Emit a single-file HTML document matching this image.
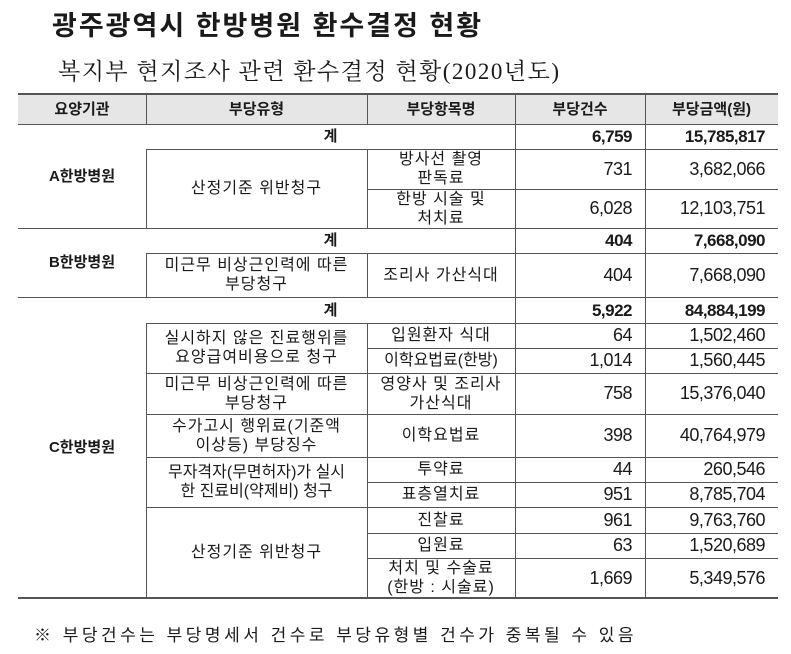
<!DOCTYPE html>
<html><head><meta charset="utf-8"><style>
body{margin:0;width:791px;height:654px;background:#fff;position:relative;overflow:hidden;font-family:"Liberation Sans","Noto Sans CJK KR",sans-serif;color:#1a1a1a}
.a{position:absolute;white-space:nowrap}
.h{position:absolute;height:1px;background:#555}
.v{position:absolute;width:1px;background:#555}
.c{position:absolute;display:flex;align-items:center;justify-content:center;text-align:center;font-size:16px;line-height:19px;letter-spacing:1px;white-space:nowrap}
.r{justify-content:flex-end;padding-right:13px;box-sizing:border-box;letter-spacing:-0.5px;font-size:18px}
.b{font-weight:bold;font-size:15px;letter-spacing:0}
.b.r{font-size:17px;letter-spacing:-0.5px}
</style></head><body>
<div class="a" style="left:52px;top:4px;font-size:27px;font-weight:bold;letter-spacing:2px">광주광역시 한방병원 환수결정 현황</div>
<div class="a" style="left:58px;top:53px;font-size:23px;letter-spacing:1.5px;font-family:'Liberation Serif','Noto Serif CJK SC','Noto Sans CJK KR',serif">복지부 현지조사 관련 환수결정 현황(2020년도)</div>

<div class="a" style="left:18px;top:94px;width:760px;height:30px;background:#e6e6e6"></div>
<div class="h" style="left:18px;width:760px;top:93px;height:2px"></div>
<div class="h" style="left:18px;width:760px;top:124px"></div>
<div class="h" style="left:18px;width:760px;top:228px"></div>
<div class="h" style="left:18px;width:760px;top:297px"></div>
<div class="h" style="left:18px;width:760px;top:597px;height:2px"></div>
<div class="h" style="left:146px;width:632px;top:149px"></div>
<div class="h" style="left:146px;width:632px;top:253px"></div>
<div class="h" style="left:146px;width:632px;top:323px"></div>
<div class="h" style="left:146px;width:632px;top:373px"></div>
<div class="h" style="left:146px;width:632px;top:414px"></div>
<div class="h" style="left:146px;width:632px;top:457px"></div>
<div class="h" style="left:146px;width:632px;top:507px"></div>
<div class="h" style="left:367px;width:411px;top:189px"></div>
<div class="h" style="left:367px;width:411px;top:348px"></div>
<div class="h" style="left:367px;width:411px;top:482px"></div>
<div class="h" style="left:367px;width:411px;top:533px"></div>
<div class="h" style="left:367px;width:411px;top:558px"></div>

<div class="v" style="left:146px;top:94px;height:30px"></div>
<div class="v" style="left:146px;top:149px;height:79px"></div>
<div class="v" style="left:146px;top:253px;height:44px"></div>
<div class="v" style="left:146px;top:323px;height:275px"></div>
<div class="v" style="left:367px;top:94px;height:30px"></div>
<div class="v" style="left:367px;top:149px;height:79px"></div>
<div class="v" style="left:367px;top:253px;height:44px"></div>
<div class="v" style="left:367px;top:323px;height:275px"></div>
<div class="v" style="left:515px;top:94px;height:504px"></div>
<div class="v" style="left:645px;top:94px;height:504px"></div>

<div class="c b" style="left:18px;top:94px;width:128px;height:30px">요양기관</div>
<div class="c b" style="left:146px;top:94px;width:221px;height:30px">부당유형</div>
<div class="c b" style="left:367px;top:94px;width:148px;height:30px">부당항목명</div>
<div class="c b" style="left:515px;top:94px;width:130px;height:30px">부당건수</div>
<div class="c b" style="left:645px;top:94px;width:133px;height:30px">부당금액(원)</div>

<div class="c b" style="left:18px;top:124px;width:128px;height:104px">A한방병원</div>
<div class="c b" style="left:146px;top:124px;width:369px;height:25px">계</div>
<div class="c b r" style="left:515px;top:124px;width:130px;height:25px">6,759</div>
<div class="c b r" style="left:645px;top:124px;width:133px;height:25px">15,785,817</div>
<div class="c" style="left:146px;top:149px;width:221px;height:79px">산정기준 위반청구</div>
<div class="c" style="left:367px;top:149px;width:148px;height:40px">방사선 촬영<br>판독료</div>
<div class="c r" style="left:515px;top:149px;width:130px;height:40px">731</div>
<div class="c r" style="left:645px;top:149px;width:133px;height:40px">3,682,066</div>
<div class="c" style="left:367px;top:189px;width:148px;height:39px">한방 시술 및<br>처치료</div>
<div class="c r" style="left:515px;top:189px;width:130px;height:39px">6,028</div>
<div class="c r" style="left:645px;top:189px;width:133px;height:39px">12,103,751</div>

<div class="c b" style="left:18px;top:228px;width:128px;height:69px">B한방병원</div>
<div class="c b" style="left:146px;top:228px;width:369px;height:25px">계</div>
<div class="c b r" style="left:515px;top:228px;width:130px;height:25px">404</div>
<div class="c b r" style="left:645px;top:228px;width:133px;height:25px">7,668,090</div>
<div class="c" style="left:146px;top:253px;width:221px;height:44px">미근무 비상근인력에 따른<br>부당청구</div>
<div class="c" style="left:367px;top:253px;width:148px;height:44px">조리사 가산식대</div>
<div class="c r" style="left:515px;top:253px;width:130px;height:44px">404</div>
<div class="c r" style="left:645px;top:253px;width:133px;height:44px">7,668,090</div>

<div class="c b" style="left:18px;top:297px;width:128px;height:300px">C한방병원</div>
<div class="c b" style="left:146px;top:297px;width:369px;height:26px">계</div>
<div class="c b r" style="left:515px;top:297px;width:130px;height:26px">5,922</div>
<div class="c b r" style="left:645px;top:297px;width:133px;height:26px">84,884,199</div>

<div class="c" style="left:146px;top:323px;width:221px;height:50px">실시하지 않은 진료행위를<br>요양급여비용으로 청구</div>
<div class="c" style="left:367px;top:323px;width:148px;height:25px">입원환자 식대</div>
<div class="c r" style="left:515px;top:323px;width:130px;height:25px">64</div>
<div class="c r" style="left:645px;top:323px;width:133px;height:25px">1,502,460</div>
<div class="c" style="left:367px;top:348px;width:148px;height:25px;letter-spacing:0">이학요법료(한방)</div>
<div class="c r" style="left:515px;top:348px;width:130px;height:25px">1,014</div>
<div class="c r" style="left:645px;top:348px;width:133px;height:25px">1,560,445</div>

<div class="c" style="left:146px;top:373px;width:221px;height:41px">미근무 비상근인력에 따른<br>부당청구</div>
<div class="c" style="left:367px;top:373px;width:148px;height:41px">영양사 및 조리사<br>가산식대</div>
<div class="c r" style="left:515px;top:373px;width:130px;height:41px">758</div>
<div class="c r" style="left:645px;top:373px;width:133px;height:41px">15,376,040</div>

<div class="c" style="left:146px;top:414px;width:221px;height:43px">수가고시 행위료(기준액<br>이상등) 부당징수</div>
<div class="c" style="left:367px;top:414px;width:148px;height:43px">이학요법료</div>
<div class="c r" style="left:515px;top:414px;width:130px;height:43px">398</div>
<div class="c r" style="left:645px;top:414px;width:133px;height:43px">40,764,979</div>

<div class="c" style="left:146px;top:457px;width:221px;height:50px;letter-spacing:0">무자격자(무면허자)가 실시<br>한 진료비(약제비) 청구</div>
<div class="c" style="left:367px;top:457px;width:148px;height:25px">투약료</div>
<div class="c r" style="left:515px;top:457px;width:130px;height:25px">44</div>
<div class="c r" style="left:645px;top:457px;width:133px;height:25px">260,546</div>
<div class="c" style="left:367px;top:482px;width:148px;height:25px">표층열치료</div>
<div class="c r" style="left:515px;top:482px;width:130px;height:25px">951</div>
<div class="c r" style="left:645px;top:482px;width:133px;height:25px">8,785,704</div>

<div class="c" style="left:146px;top:507px;width:221px;height:90px">산정기준 위반청구</div>
<div class="c" style="left:367px;top:507px;width:148px;height:26px">진찰료</div>
<div class="c r" style="left:515px;top:507px;width:130px;height:26px">961</div>
<div class="c r" style="left:645px;top:507px;width:133px;height:26px">9,763,760</div>
<div class="c" style="left:367px;top:533px;width:148px;height:25px">입원료</div>
<div class="c r" style="left:515px;top:533px;width:130px;height:25px">63</div>
<div class="c r" style="left:645px;top:533px;width:133px;height:25px">1,520,689</div>
<div class="c" style="left:367px;top:558px;width:148px;height:40px">처치 및 수술료<br>(한방 : 시술료)</div>
<div class="c r" style="left:515px;top:558px;width:130px;height:40px">1,669</div>
<div class="c r" style="left:645px;top:558px;width:133px;height:40px">5,349,576</div>

<div class="a" style="left:34px;top:621px;font-size:17px;letter-spacing:3.5px">※ 부당건수는 부당명세서 건수로 부당유형별 건수가 중복될 수 있음</div>
</body></html>
